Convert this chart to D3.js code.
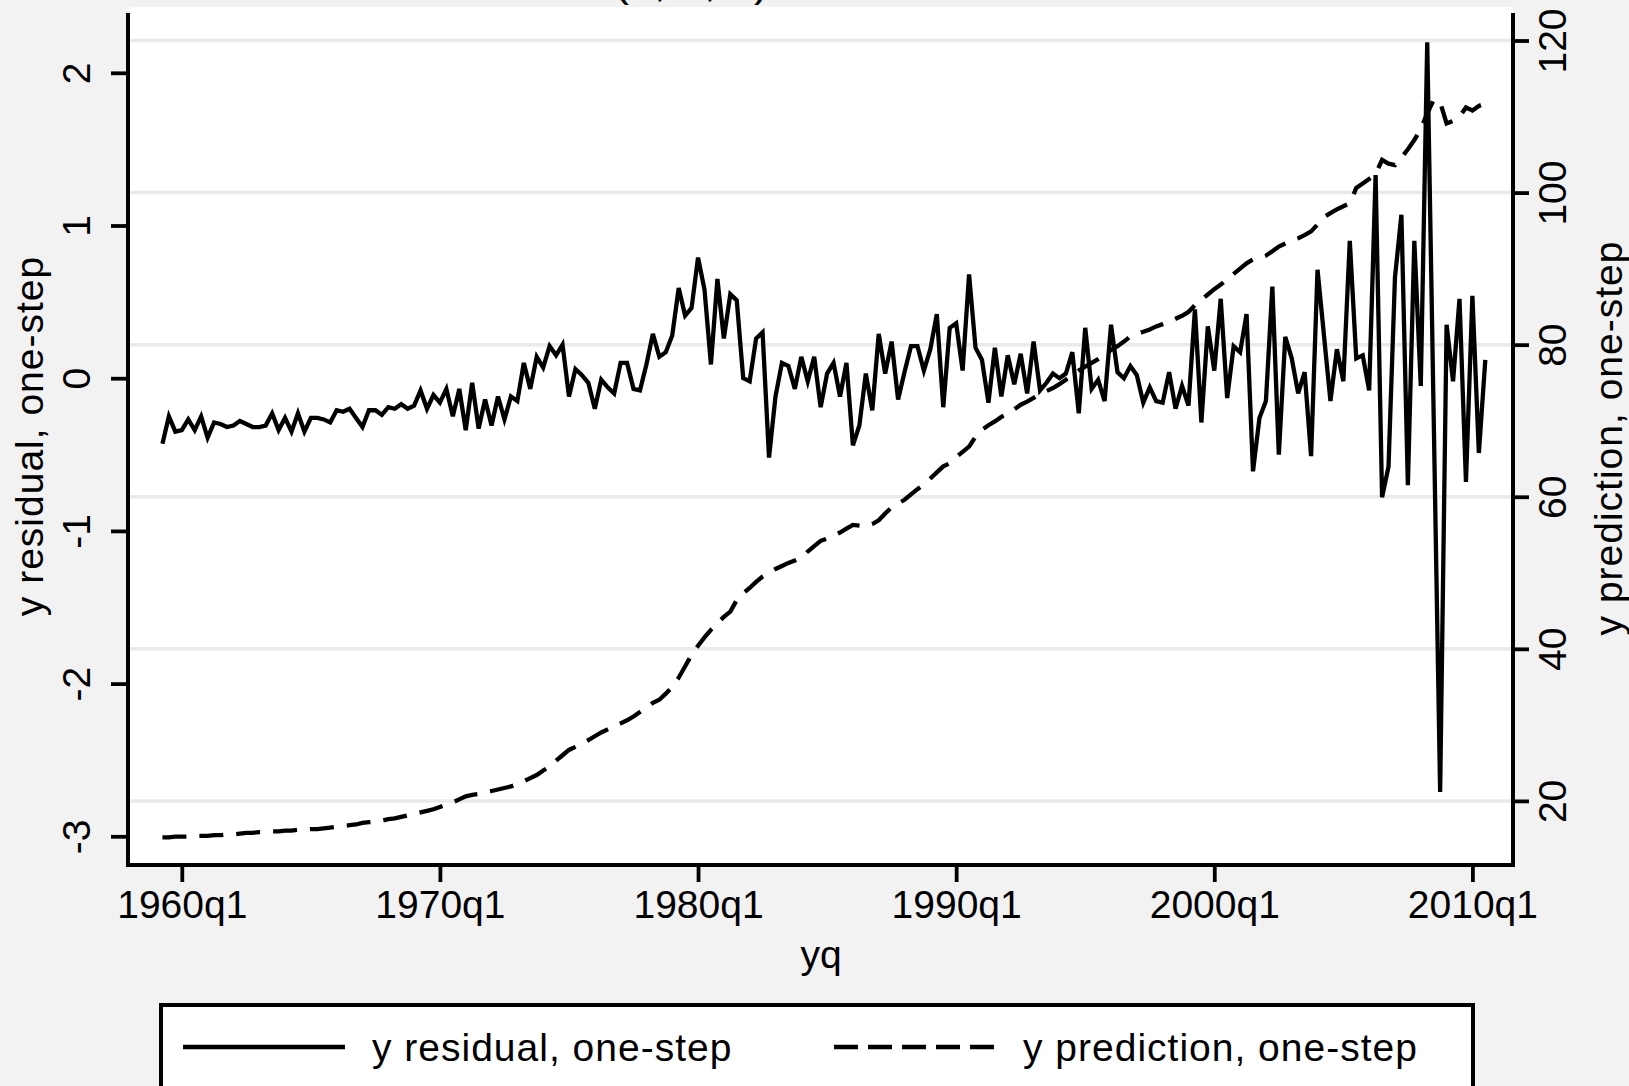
<!DOCTYPE html>
<html>
<head>
<meta charset="utf-8">
<script src="https://cdn.jsdelivr.net/npm/d3@7"></script>
<style>
  html, body { margin: 0; padding: 0; background: #f2f2f2; }
  svg { display: block; }
  text { font-family: "Liberation Sans", Arial, Helvetica, sans-serif; fill: #000; }
</style>
</head>
<body>
<svg id="chart"></svg>
<script>
// quarterly dates as Stata %tq numbers (1960q1 = 0), first obs is 1959q2
const firstQuarter = -3

const residual = [
  -0.43, -0.25, -0.35, -0.34, -0.27, -0.34, -0.25, -0.39, -0.29, -0.30, -0.32, -0.31, -0.28,
  -0.30, -0.32, -0.32, -0.31, -0.23, -0.34, -0.26, -0.35, -0.23, -0.35, -0.26, -0.26,
  -0.27, -0.29, -0.21, -0.22, -0.20, -0.26, -0.32, -0.21, -0.21, -0.24, -0.19, -0.20,
  -0.17, -0.20, -0.18, -0.08, -0.20, -0.11, -0.16, -0.07, -0.25, -0.07, -0.34,
  -0.03, -0.33, -0.14, -0.31, -0.12, -0.27, -0.12, -0.15, 0.10, -0.07,
  0.14, 0.07, 0.21, 0.15, 0.22, -0.12, 0.06, 0.02, -0.03, -0.20, -0.01, -0.06,
  -0.10, 0.10, 0.10, -0.07, -0.08, 0.09, 0.29, 0.14, 0.17, 0.28, 0.59, 0.41, 0.46, 0.79,
  0.58, 0.09, 0.65, 0.26, 0.55, 0.51, 0.00, -0.02, 0.26, 0.30, -0.52, -0.12, 0.10, 0.08, -0.07, 0.14,
  -0.02, 0.14, -0.19, 0.03, 0.10, -0.12, 0.10, -0.44, -0.31, 0.03, -0.21, 0.29, 0.03, 0.24,
  -0.14, 0.04, 0.21, 0.21, 0.05, 0.19, 0.42, -0.19, 0.33, 0.36, 0.05, 0.68, 0.20, 0.12, -0.16,
  0.20, -0.12, 0.15, -0.04, 0.16, -0.10, 0.24, -0.08, -0.03, 0.03, 0.00, 0.03, 0.17, -0.23, 0.33,
  -0.07, -0.01, -0.15, 0.35, 0.04, 0.00, 0.08, 0.02, -0.16, -0.06, -0.15, -0.16, 0.04, -0.20, -0.05,
  -0.18, 0.45, -0.29, 0.34, 0.05, 0.52, -0.13, 0.21, 0.17, 0.42, -0.61, -0.26, -0.15, 0.60, -0.50,
  0.27, 0.13, -0.10, 0.04, -0.51, 0.71, 0.28, -0.15, 0.19, -0.02, 0.90, 0.13, 0.15, -0.08, 1.33,
  -0.78, -0.58, 0.66, 1.07, -0.70, 0.90, -0.05, 2.20, -0.25, -2.71, 0.35, -0.02, 0.52, -0.68, 0.54, -0.49, 0.12
]

const prediction = [
  15.2, 15.2, 15.3, 15.3, 15.3, 15.4, 15.4, 15.4, 15.5, 15.5, 15.6, 15.6, 15.7,
  15.8, 15.8, 15.9, 15.9, 16.0, 16.0, 16.1, 16.1, 16.2, 16.2, 16.3, 16.3,
  16.4, 16.5, 16.6, 16.7, 16.8, 16.9, 17.1, 17.2, 17.3, 17.4, 17.6, 17.7,
  17.9, 18.1, 18.3, 18.5, 18.7, 18.9, 19.2, 19.5, 19.8, 20.2, 20.6,
  20.8, 20.9, 21.1, 21.3, 21.5, 21.7, 21.9, 22.2, 22.6, 23.0,
  23.4, 24.0, 24.5, 25.3, 26.0, 26.7, 27.1, 27.5, 28.0, 28.5, 29.0, 29.4,
  29.8, 30.2, 30.6, 31.1, 31.7, 32.3, 32.9, 33.3, 34.1, 35.0, 36.2, 37.7, 39.2, 40.4,
  41.5, 42.5, 43.4, 44.2, 44.9, 46.4, 47.3, 48.0, 48.8, 49.5, 50.0, 50.5, 50.9, 51.3, 51.6, 52.0,
  52.8, 53.5, 54.2, 54.5, 54.9, 55.3, 55.8, 56.3, 56.2, 56.1, 56.4, 56.9, 57.8, 58.6,
  59.1, 59.6, 60.3, 61.0, 61.6, 62.4, 63.2, 64.0, 64.4, 65.2, 65.9, 66.6, 67.9, 68.8, 69.4,
  69.9, 70.5, 70.9, 71.5, 72.1, 72.5, 73.0, 73.5, 73.9, 74.3, 74.8, 75.4, 76.0, 76.6, 77.1,
  77.6, 78.1, 78.7, 79.3, 79.8, 80.4, 81.1, 81.4, 81.7, 82.0, 82.4, 82.7, 83.0, 83.4, 83.8,
  84.3, 85.2, 85.9, 86.6, 87.3, 87.9, 88.6, 89.3, 90.0, 90.7, 91.2, 91.4, 91.7, 92.3, 92.9,
  93.3, 93.7, 94.0, 94.4, 94.9, 95.8, 96.8, 97.3, 97.8, 98.2, 98.6, 100.6, 101.2, 101.8, 102.4,
  104.3, 103.8, 103.6, 104.6, 105.7, 106.9, 108.4, 110.4, 112.2, 111.9, 109.1, 109.4, 110.0, 111.2, 110.8, 111.4, 111.7
]

const xTickValues = [0, 40, 80, 120, 160, 200]
const xTickLabels = ["1960q1", "1970q1", "1980q1", "1990q1", "2000q1", "2010q1"]
const leftTicks = [-3, -2, -1, 0, 1, 2]
const rightTicks = [20, 40, 60, 80, 100, 120]

const labels = {
  title: "(1, 1, 1)",
  x: "yq",
  left: "y residual, one-step",
  right: "y prediction, one-step"
}

const width = 1629, height = 1086
const plot = { left: 130, right: 1513, top: 7, bottom: 865 }
const fontSize = 39
const lineWidth = 4.3

const svg = d3.select("#chart").attr("width", width).attr("height", height)

svg.append("rect").attr("width", width).attr("height", height).attr("fill", "#f2f2f2")
svg.append("rect")
  .attr("x", plot.left).attr("y", plot.top)
  .attr("width", plot.right - plot.left).attr("height", plot.bottom - plot.top)
  .attr("fill", "#fff")

const x = d3.scaleLinear().domain([0, 200]).range([181.8, 1472.4])
const yLeft = d3.scaleLinear().domain([-3, 2]).range([836.3, 72.8])
const yRight = d3.scaleLinear().domain([20, 120]).range([800.9, 40.5])

// gridlines follow the right axis
svg.append("g").selectAll("line")
  .data(rightTicks).enter().append("line")
  .attr("x1", plot.left).attr("x2", plot.right)
  .attr("y1", d => yRight(d)).attr("y2", d => yRight(d))
  .attr("stroke", "#eaeaea").attr("stroke-width", 3.5)

// partial title, cut by the top of the picture
svg.append("text").attr("x", 614).attr("y", -4)
  .style("font-size", "45px").text(labels.title)

const residLine = d3.line().x((d, i) => x(firstQuarter + i)).y(d => yLeft(d))
const predLine = d3.line().x((d, i) => x(firstQuarter + i)).y(d => yRight(d))

svg.append("path").datum(residual)
  .attr("d", residLine)
  .attr("fill", "none").attr("stroke", "#000").attr("stroke-width", lineWidth)

svg.append("path").datum(prediction)
  .attr("d", predLine)
  .attr("fill", "none").attr("stroke", "#000").attr("stroke-width", lineWidth)
  .attr("stroke-dasharray", "24,13")

const styleAxis = (g) => {
  g.select(".domain").remove()
  g.selectAll(".tick line").attr("stroke", "#000").attr("stroke-width", 3.8)
  g.selectAll(".tick text").style("font-size", fontSize + "px").style("font-family", null)
}

const leftAxis = svg.append("g").attr("transform", `translate(128,0)`)
  .call(d3.axisLeft(yLeft).tickValues(leftTicks).tickSize(17).tickFormat(d => String(d)))
  .call(styleAxis)
leftAxis.selectAll(".tick text")
  .attr("x", null).attr("dy", null)
  .attr("text-anchor", "middle")
  .attr("transform", "translate(-38,0) rotate(-90)")

const rightAxis = svg.append("g").attr("transform", `translate(1513,0)`)
  .call(d3.axisRight(yRight).tickValues(rightTicks).tickSize(16).tickFormat(d => String(d)))
  .call(styleAxis)
rightAxis.selectAll(".tick text")
  .attr("x", null).attr("dy", null)
  .attr("text-anchor", "middle")
  .attr("transform", "translate(53,0) rotate(-90)")

const bottomAxis = svg.append("g").attr("transform", `translate(0,865)`)
  .call(d3.axisBottom(x).tickValues(xTickValues).tickSize(17)
    .tickFormat((d, i) => xTickLabels[i]))
  .call(styleAxis)
bottomAxis.selectAll(".tick text").attr("y", 53).attr("dy", null)

// axis lines
svg.append("line").attr("x1", 128).attr("x2", 128).attr("y1", 13).attr("y2", 867)
  .attr("stroke", "#000").attr("stroke-width", 4)
svg.append("line").attr("x1", 1513).attr("x2", 1513).attr("y1", 13).attr("y2", 867)
  .attr("stroke", "#000").attr("stroke-width", 4)
svg.append("line").attr("x1", 126).attr("x2", 1515).attr("y1", 865).attr("y2", 865)
  .attr("stroke", "#000").attr("stroke-width", 4)

// axis titles
svg.append("text").attr("x", 821).attr("y", 968).attr("text-anchor", "middle")
  .style("font-size", fontSize + "px").text(labels.x)
svg.append("text").attr("transform", "translate(43,436) rotate(-90)")
  .attr("text-anchor", "middle").style("font-size", fontSize + "px")
  .style("letter-spacing", "1px").text(labels.left)
svg.append("text").attr("transform", "translate(1622,438) rotate(-90)")
  .attr("text-anchor", "middle").style("font-size", fontSize + "px")
  .style("letter-spacing", "1px").text(labels.right)

// legend
const legend = svg.append("g")
legend.append("rect").attr("x", 161).attr("y", 1005).attr("width", 1312).attr("height", 140)
  .attr("fill", "#fff").attr("stroke", "#000").attr("stroke-width", 4)
legend.append("line").attr("x1", 183).attr("x2", 345).attr("y1", 1047).attr("y2", 1047)
  .attr("stroke", "#000").attr("stroke-width", lineWidth)
legend.append("line").attr("x1", 834).attr("x2", 996).attr("y1", 1047).attr("y2", 1047)
  .attr("stroke", "#000").attr("stroke-width", lineWidth).attr("stroke-dasharray", "24,10")
legend.append("text").attr("x", 372).attr("y", 1061)
  .style("font-size", fontSize + "px").style("letter-spacing", "1px").text(labels.left)
legend.append("text").attr("x", 1023).attr("y", 1061)
  .style("font-size", fontSize + "px").style("letter-spacing", "1px").text(labels.right)
</script>
</body>
</html>
